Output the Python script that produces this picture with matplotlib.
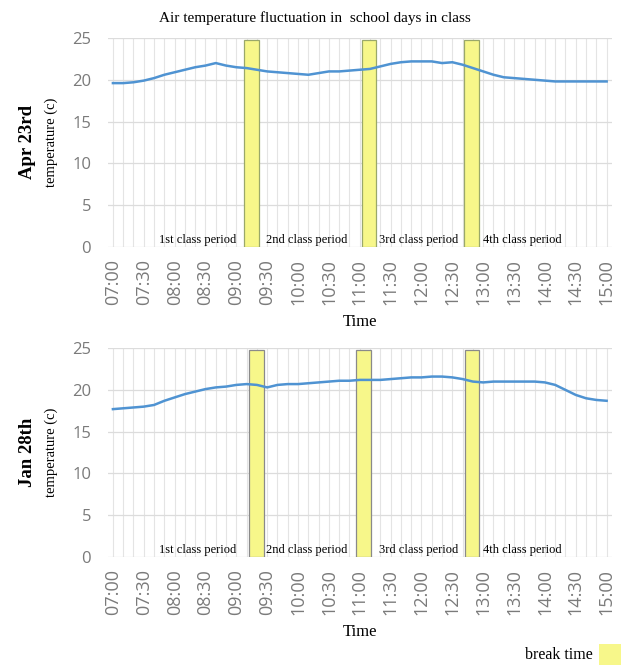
import matplotlib
matplotlib.use('Agg')
import matplotlib.pyplot as plt
from matplotlib.patches import Rectangle

# time in minutes after 07:00, one reading every 10 min
minutes = list(range(0, 481, 10))

apr_temp = [19.6, 19.6, 19.7, 19.9, 20.2, 20.6, 20.9, 21.2, 21.5, 21.7,
            22.0, 21.7, 21.5, 21.4, 21.2, 21.0, 20.9, 20.8, 20.7, 20.6,
            20.8, 21.0, 21.0, 21.1, 21.2, 21.3, 21.6, 21.9, 22.1, 22.2,
            22.2, 22.2, 22.0, 22.1, 21.8, 21.4, 21.0, 20.6, 20.3, 20.2,
            20.1, 20.0, 19.9, 19.8, 19.8, 19.8, 19.8, 19.8, 19.8]

jan_temp = [17.7, 17.8, 17.9, 18.0, 18.2, 18.7, 19.1, 19.5, 19.8, 20.1,
            20.3, 20.4, 20.6, 20.7, 20.6, 20.3, 20.6, 20.7, 20.7, 20.8,
            20.9, 21.0, 21.1, 21.1, 21.2, 21.2, 21.2, 21.3, 21.4, 21.5,
            21.5, 21.6, 21.6, 21.5, 21.3, 21.0, 20.9, 21.0, 21.0, 21.0,
            21.0, 21.0, 20.9, 20.6, 20.0, 19.4, 19.0, 18.8, 18.7]

# break periods (start, end) in minutes after 07:00
apr_breaks = [(127, 142), (242, 256), (341, 356)]
jan_breaks = [(132, 147), (236, 251), (342, 356)]

tick_labels = ['07:00', '07:30', '08:00', '08:30', '09:00', '09:30', '10:00',
               '10:30', '11:00', '11:30', '12:00', '12:30', '13:00', '13:30',
               '14:00', '14:30', '15:00']
period_labels = ['1st class period', '2nd class period',
                 '3rd class period', '4th class period']
period_x = [82, 188, 297, 398]

SERIF = 'Liberation Serif'
GRAY = '#7a7a7a'
YELLOW = '#f7f78a'


def panel(ax, temps, breaks, day, edge):
    """
    one day of readings
    """
    ax.set_xlim(-5, 485)
    ax.set_ylim(0, 25)
    for m in minutes:
        ax.axvline(m, color='#e4e4e4', lw=0.8, zorder=0)
    for v in range(0, 26, 5):
        ax.axhline(v, color='#dcdcdc', lw=0.9, zorder=0)
    for b0, b1 in breaks:
        ax.add_patch(Rectangle((b0, 0), b1 - b0, 24.8, facecolor=YELLOW,
                               edgecolor=edge, lw=0.9, zorder=1))
    ax.plot(minutes, temps, color='#4f93d2', lw=1.8, zorder=3)
    for s in ax.spines.values():
        s.set_visible(False)
    ax.set_yticks(range(0, 26, 5))
    ax.set_xticks(range(0, 481, 30))
    ax.set_xticklabels(tick_labels, rotation=90, fontsize=13, color=GRAY,
                       family='Open Sans')
    ax.tick_params(axis='y', labelsize=12, colors=GRAY, length=0, pad=12)
    ax.tick_params(axis='x', length=0, pad=9)
    for lab in ax.get_yticklabels():
        lab.set_family('Open Sans')
    for txt, x in zip(period_labels, period_x):
        ax.text(x, 0.15, txt, ha='center', va='bottom', fontsize=9,
                family=SERIF, zorder=4)
    ax.set_xlabel('Time', family=SERIF, fontsize=12, labelpad=6)
    ax.set_ylabel('temperature (c)', family=SERIF, fontsize=10.5, labelpad=10)
    ax.text(-0.159, 0.5, day, transform=ax.transAxes, rotation=90,
            ha='center', va='center', family=SERIF, fontsize=13.5,
            fontweight='bold')


fig = plt.figure(figsize=(6.23, 6.67), dpi=100)
ax1 = fig.add_axes([0.173, 0.630, 0.809, 0.313])
ax2 = fig.add_axes([0.173, 0.165, 0.809, 0.313])

panel(ax1, apr_temp, apr_breaks, 'Apr 23rd', '#9aa86a')
panel(ax2, jan_temp, jan_breaks, 'Jan 28th', '#8a8a8a')

fig.text(0.505, 0.973, 'Air temperature fluctuation in  school days in class',
         ha='center', va='center', family=SERIF, fontsize=11)

# legend for the break bars
fig.text(0.952, 0.018, 'break time', ha='right', va='center', family=SERIF,
         fontsize=11.5)
fig.patches.append(Rectangle((0.962, 0.003), 0.034, 0.032,
                             transform=fig.transFigure, facecolor=YELLOW,
                             edgecolor='none', figure=fig))

fig.savefig('out.png', dpi=100)
